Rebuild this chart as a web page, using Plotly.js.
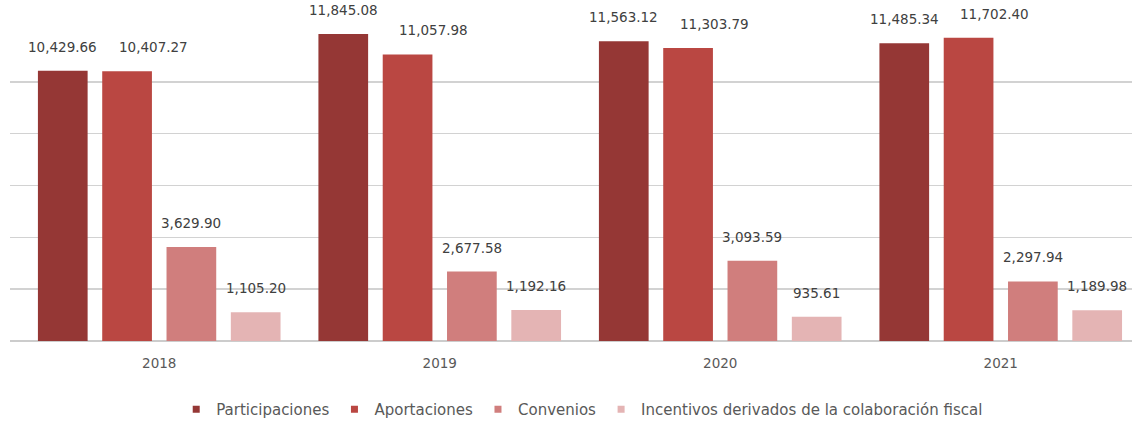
<!DOCTYPE html>
<html>
<head>
<meta charset="utf-8">
<script src="https://cdn.plot.ly/plotly-3.0.1.min.js"></script>
<style>html,body{margin:0;padding:0;background:#fff;}#chart{width:1132px;height:426px;}</style>
</head>
<body>
<div id="chart"></div>
<script>
const years = ["2018", "2019", "2020", "2021"];
const seriesNames = ["Participaciones", "Aportaciones", "Convenios", "Incentivos derivados de la colaboración fiscal"];
const participaciones = [10429.66, 11845.08, 11563.12, 11485.34];
const aportaciones = [10407.27, 11057.98, 11303.79, 11702.40];
const convenios = [3629.90, 2677.58, 3093.59, 2297.94];
const incentivos = [1105.20, 1192.16, 935.61, 1189.98];

const values = [participaciones, aportaciones, convenios, incentivos];
const colors = ["#953735", "#BA4742", "#D07E7D", "#E4B4B4"];
const labelXShift = [0, 26, 0, 0];

const bargap = 0.083;
const bargroupgap = 0.227;
const slot = (1 - bargap) / values.length;
const FONT = "DejaVu Sans, sans-serif";

const fmt = v => v.toLocaleString("en-US", {minimumFractionDigits: 2, maximumFractionDigits: 2});

const traces = [];
values.forEach((vals, j) => {
  traces.push({
    type: "bar", x: years, y: vals, name: seriesNames[j],
    marker: {color: colors[j]}, showlegend: false, hoverinfo: "y"
  });
});
values.forEach((vals, j) => {
  traces.push({
    type: "scatter", mode: "markers", x: [null], y: [null], name: seriesNames[j],
    marker: {symbol: "square", size: 7, color: colors[j]}, showlegend: true, hoverinfo: "skip"
  });
});

const annotations = [];
values.forEach((vals, j) => {
  vals.forEach((v, i) => {
    annotations.push({
      xref: "x", yref: "y", x: i + (j - (values.length - 1) / 2) * slot, y: v,
      text: fmt(v), showarrow: false, xanchor: "center", yanchor: "middle",
      yshift: 24, xshift: labelXShift[j],
      font: {family: FONT, size: 13.5, color: "#404040"}
    });
  });
});

const layout = {
  width: 1132, height: 426,
  margin: {l: 10, r: 0, t: 30, b: 84},
  paper_bgcolor: "#ffffff", plot_bgcolor: "#ffffff",
  barmode: "group", bargap: bargap, bargroupgap: bargroupgap,
  font: {family: FONT, color: "#595959"},
  xaxis: {
    type: "category", range: [-0.532, 3.468], showgrid: false, zeroline: false,
    showline: false, ticks: "", tickfont: {size: 13.5, color: "#595959"}, ticklabelstandoff: 12
  },
  yaxis: {
    range: [0, 12000], dtick: 2000, showticklabels: false, showgrid: true,
    gridcolor: "#D2D2D2", gridwidth: 1.5, zeroline: true, zerolinecolor: "#CCCCCC", zerolinewidth: 1.5,
    showline: false, ticks: ""
  },
  showlegend: true,
  legend: {
    orientation: "h", x: 0.51, xanchor: "center", y: -0.221, yanchor: "middle",
    font: {size: 15, color: "#595959"}, itemwidth: 30, traceorder: "normal"
  },
  annotations: annotations
};

Plotly.newPlot("chart", traces, layout, {displayModeBar: false, staticPlot: true});
</script>
</body>
</html>
